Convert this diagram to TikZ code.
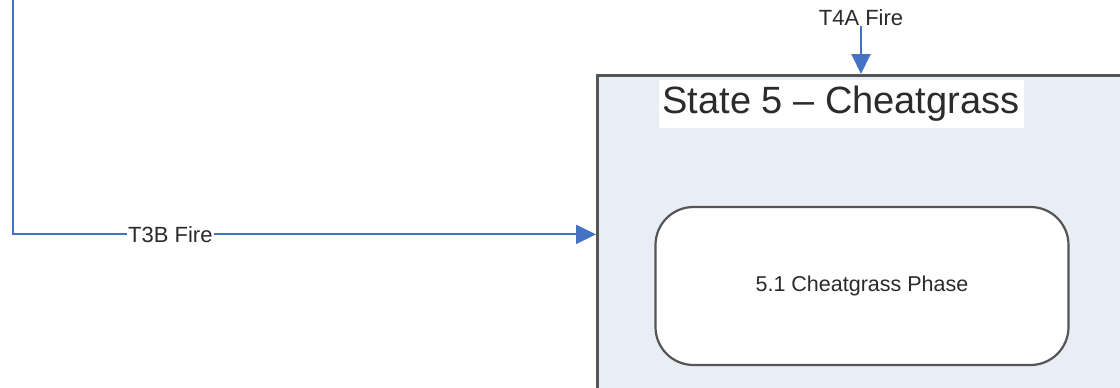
\documentclass[tikz,border=0pt]{standalone}
\usepackage{fontspec}
\setmainfont{Liberation Sans}
\usetikzlibrary{arrows.meta}
\definecolor{flowblue}{HTML}{4472C4}
\definecolor{statefill}{HTML}{E9EDF6}
\definecolor{edgegray}{HTML}{555555}
\definecolor{txtgray}{HTML}{2B2B2B}
\tikzset{
  flow/.style={draw=flowblue, line width=2pt, -{Triangle[length=20pt,width=19pt]}},
  statebox/.style={draw=edgegray, line width=2.8pt, fill=statefill, minimum width=560pt, minimum height=340pt, inner sep=0pt, anchor=north west},
  titlebox/.style={fill=white, text=txtgray, font=\fontsize{38}{40}\selectfont, inner xsep=4pt, inner ysep=6pt},
  phasebox/.style={draw=edgegray, line width=2.2pt, fill=white, rounded corners=38pt, minimum width=413pt, minimum height=158pt, text=txtgray, font=\fontsize{21.5}{24}\selectfont},
  flowlabel/.style={fill=white, text=txtgray, font=\fontsize{22}{24}\selectfont, inner sep=1pt}
}
\begin{document}
\begin{tikzpicture}[x=1pt,y=-1pt]
\useasboundingbox (0,0) rectangle (1120,388);
\clip (0,0) rectangle (1120,388);
\fill[white] (0,0) rectangle (1120,388);
\node[statebox] (state) at (596,74) {};
\node[titlebox] (title) at (841,104) {State 5 – Cheatgrass};
\node[phasebox] (phase) at (862,286) {5.1 Cheatgrass Phase};
\coordinate (src) at (13,-10);
\draw[flow] (src) |- ([yshift=11pt]state.west) node[flowlabel, pos=0.635] (t3b) {T3B Fire};
\node[flowlabel, anchor=base] (t4a) at (861,25) {T4A Fire};
\draw[flow] (t4a.south) -- (t4a.south |- state.north);
\end{tikzpicture}
\end{document}
